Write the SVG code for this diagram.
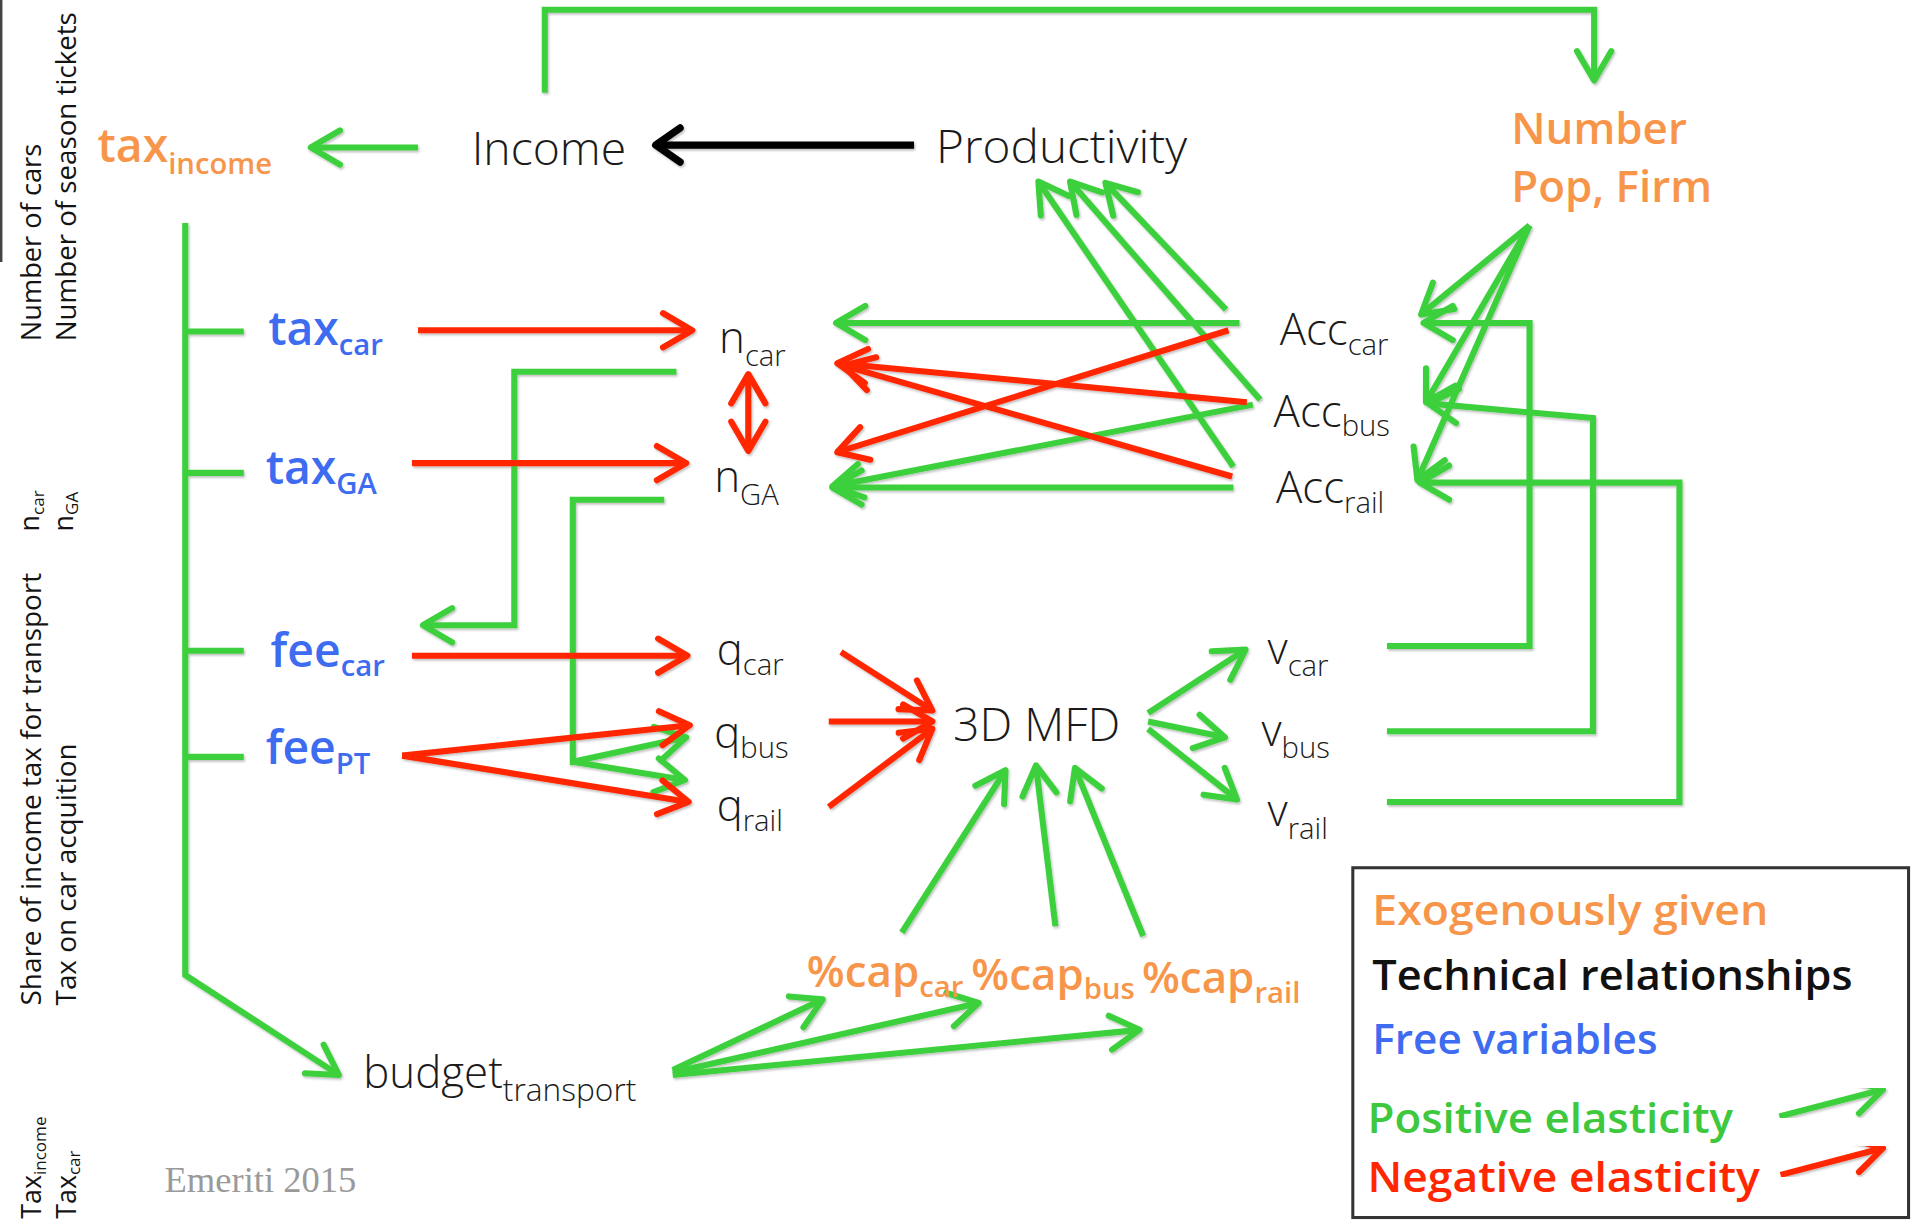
<svg xmlns="http://www.w3.org/2000/svg" width="1911" height="1223" viewBox="0 0 1911 1223">
<defs>
<style>
.t{font-family:"Open Sans","Noto Sans","DejaVu Sans",sans-serif;}
.lbl{font-size:38px;fill:#1b1b1b;font-weight:300;}
.sub{font-size:24px;}
.org{fill:#F7964A;font-weight:600;}
.blu{fill:#3E6CF1;font-weight:600;}
.vt{font-size:22px;fill:#141414;font-weight:400;}
.vs{font-size:14px;}
.leg{font-size:34px;font-weight:600;}
.g{stroke:#3DD03D;stroke-width:5;fill:none;marker-end:url(#ag);}
.gn{stroke:#3DD03D;stroke-width:5;fill:none;}
.r{stroke:#FF2600;stroke-width:5;fill:none;marker-end:url(#ar);}
.k{stroke:#000;stroke-width:6;fill:none;marker-end:url(#ak);}
</style>
<marker id="ag" markerUnits="userSpaceOnUse" orient="auto-start-reverse" markerWidth="60" markerHeight="60" viewBox="-30 -30 60 60" refX="0" refY="0" overflow="visible">
<path d="M-24,-14 L0,0 L-24,14" fill="none" stroke="#3DD03D" stroke-width="5" stroke-linecap="round" stroke-linejoin="round"/>
</marker>
<marker id="ar" markerUnits="userSpaceOnUse" orient="auto-start-reverse" markerWidth="60" markerHeight="60" viewBox="-30 -30 60 60" refX="0" refY="0" overflow="visible">
<path d="M-24,-14 L0,0 L-24,14" fill="none" stroke="#FF2600" stroke-width="5" stroke-linecap="round" stroke-linejoin="round"/>
</marker>
<marker id="ak" markerUnits="userSpaceOnUse" orient="auto" markerWidth="60" markerHeight="60" viewBox="-30 -30 60 60" refX="0" refY="0" overflow="visible">
<path d="M-20,-14 L0,0 L-20,14" fill="none" stroke="#000" stroke-width="6" stroke-linecap="round" stroke-linejoin="round"/>
</marker>
<filter id="sh" x="-5%" y="-5%" width="110%" height="110%">
<feDropShadow dx="1" dy="1.5" stdDeviation="1" flood-color="#000" flood-opacity="0.25"/>
</filter>
</defs>
<rect width="1911" height="1223" fill="#fff"/>
<g transform="scale(1.21875)">
<line x1="1" y1="0" x2="1" y2="215" stroke="#444" stroke-width="2"/>
<g id="side-notes" class="t vt">
<text transform="translate(34,280) rotate(-90)" textLength="162" lengthAdjust="spacingAndGlyphs">Number of cars</text>
<text transform="translate(62,280) rotate(-90)" textLength="270" lengthAdjust="spacingAndGlyphs">Number of season tickets</text>
<text transform="translate(32,436) rotate(-90)">n<tspan class="vs" dy="4">car</tspan></text>
<text transform="translate(60,436) rotate(-90)">n<tspan class="vs" dy="4">GA</tspan></text>
<text transform="translate(34,825) rotate(-90)" textLength="355" lengthAdjust="spacingAndGlyphs">Share of income tax for transport</text>
<text transform="translate(62,825) rotate(-90)" textLength="215" lengthAdjust="spacingAndGlyphs">Tax on car acquition</text>
<text transform="translate(34,1000) rotate(-90)">Tax<tspan class="vs" dy="4">income</tspan></text>
<text transform="translate(62,1000) rotate(-90)">Tax<tspan class="vs" dy="4">car</tspan></text>
</g>
<g id="connectors" filter="url(#sh)">
<path class="g" d="M447,76 V8 H1308 V66"/>
<path class="g" d="M343,121 H255"/>
<path class="k" d="M750,119 H538"/>
<path class="g" d="M152,183 V800 L278,882"/>
<path class="gn" d="M152,272 H200 M152,388 H200 M152,534 H200 M152,621 H200"/>
<path class="g" d="M555,305 H422 V513 H347"/>
<path class="g" d="M545,410 H470 V625 L563,605"/>
<path class="g" d="M470,625 L562,640"/>
<path class="g" d="M1017,265 H686"/>
<path class="g" d="M1028,332 L683,399"/>
<path class="g" d="M1012,400 H683"/>
<path class="g" d="M1006,254 L907,150"/>
<path class="g" d="M1034,328 L878,149"/>
<path class="g" d="M1012,383 L852,149"/>
<path class="g" d="M1255,185 L1166,258"/>
<path class="g" d="M1255,185 L1170,330"/>
<path class="g" d="M1255,185 L1163,394"/>
<path class="g" d="M1138,530 H1255 V265 H1168"/>
<path class="g" d="M1138,600 H1307 V343 L1172,331"/>
<path class="g" d="M1138,658 H1378 V396 H1165"/>
<path class="g" d="M942,585 L1022,533"/>
<path class="g" d="M942,592 L1005,605"/>
<path class="g" d="M942,598 L1015,656"/>
<path class="g" d="M740,765 L825,632"/>
<path class="g" d="M866,760 L850,628"/>
<path class="g" d="M938,768 L882,630"/>
<path class="g" d="M552,878 L675,820"/>
<path class="g" d="M552,880 L803,823"/>
<path class="g" d="M552,882 L935,845"/>
<path class="r" d="M343,271 H568"/>
<path class="r" d="M338,380 H563"/>
<path class="r" d="M338,538 H564"/>
<path class="r" d="M330,620 L566,595"/>
<path class="r" d="M330,620 L565,658"/>
<path class="r" d="M614,307 V370" marker-start="url(#ar)"/>
<path class="r" d="M1008,271 L687,371"/>
<path class="r" d="M1023,330 L687,298"/>
<path class="r" d="M1011,391 L692,300"/>
<path class="r" d="M690,535 L765,583"/>
<path class="r" d="M680,592 H765"/>
<path class="r" d="M680,662 L765,598"/>
</g>
<g id="tax_income" class="t lbl org"><text x="80" y="133">tax<tspan class="sub" dy="10">income</tspan></text></g>
<g id="income" class="t lbl"><text x="387" y="135">Income</text></g>
<g id="productivity" class="t lbl"><text x="768" y="134" textLength="206" lengthAdjust="spacingAndGlyphs">Productivity</text></g>
<g id="number_pop_firm" class="t lbl org"><text x="1240" y="118" font-size="36">Number</text><text x="1240" y="166" font-size="36">Pop, Firm</text></g>
<g id="tax_car" class="t lbl blu"><text x="220" y="283">tax<tspan class="sub" dy="8">car</tspan></text></g>
<g id="tax_GA" class="t lbl blu"><text x="218" y="397">tax<tspan class="sub" dy="8">GA</tspan></text></g>
<g id="fee_car" class="t lbl blu"><text x="222" y="547">fee<tspan class="sub" dy="8">car</tspan></text></g>
<g id="fee_PT" class="t lbl blu"><text x="218" y="627">fee<tspan class="sub" dy="8">PT</tspan></text></g>
<g id="n_car" class="t lbl"><text x="590" y="290" font-size="36">n<tspan class="sub" dy="10">car</tspan></text></g>
<g id="n_GA" class="t lbl"><text x="586" y="404" font-size="36">n<tspan class="sub" dy="10">GA</tspan></text></g>
<g id="q_car" class="t lbl"><text x="588" y="546" font-size="36">q<tspan class="sub" dy="8">car</tspan></text></g>
<g id="q_bus" class="t lbl"><text x="586" y="614" font-size="36">q<tspan class="sub" dy="8">bus</tspan></text></g>
<g id="q_rail" class="t lbl"><text x="588" y="674" font-size="36">q<tspan class="sub" dy="8">rail</tspan></text></g>
<g id="mfd" class="t lbl"><text x="782" y="608">3D MFD</text></g>
<g id="v_car" class="t lbl"><text x="1040" y="545" font-size="36">v<tspan class="sub" dy="10">car</tspan></text></g>
<g id="v_bus" class="t lbl"><text x="1035" y="612" font-size="36">v<tspan class="sub" dy="10">bus</tspan></text></g>
<g id="v_rail" class="t lbl"><text x="1040" y="678" font-size="36">v<tspan class="sub" dy="10">rail</tspan></text></g>
<g id="acc_car" class="t lbl"><text x="1050" y="283" font-size="36">Acc<tspan class="sub" dy="8">car</tspan></text></g>
<g id="acc_bus" class="t lbl"><text x="1045" y="350" font-size="36">Acc<tspan class="sub" dy="8">bus</tspan></text></g>
<g id="acc_rail" class="t lbl"><text x="1047" y="413" font-size="36">Acc<tspan class="sub" dy="8">rail</tspan></text></g>
<g id="cap_car" class="t lbl org"><text x="662" y="810" font-size="36">%cap<tspan class="sub" dy="8">car</tspan></text></g>
<g id="cap_bus" class="t lbl org"><text x="797" y="812" font-size="36">%cap<tspan class="sub" dy="8">bus</tspan></text></g>
<g id="cap_rail" class="t lbl org"><text x="937" y="815" font-size="36">%cap<tspan class="sub" dy="8">rail</tspan></text></g>
<g id="budget" class="t lbl"><text x="298" y="893" font-size="36">budget<tspan font-size="26" dy="10">transport</tspan></text></g>
<text x="135" y="978" font-family="'Liberation Serif',serif" font-size="30" fill="#9a9a9a">Emeriti 2015</text>
<g id="legend">
<rect x="1110" y="712" width="456" height="287" fill="#fff" stroke="#333" stroke-width="2.5"/>
<text class="t leg" x="1126" y="759" fill="#F7964A" textLength="325" lengthAdjust="spacingAndGlyphs">Exogenously given</text>
<text class="t leg" x="1126" y="812" fill="#111" textLength="394" lengthAdjust="spacingAndGlyphs">Technical relationships</text>
<text class="t leg" x="1126" y="865" fill="#3E6CF1" textLength="234" lengthAdjust="spacingAndGlyphs">Free variables</text>
<text class="t leg" x="1122" y="930" fill="#3DC83D" textLength="300" lengthAdjust="spacingAndGlyphs">Positive elasticity</text>
<text class="t leg" x="1122" y="978" fill="#FF2600" textLength="322" lengthAdjust="spacingAndGlyphs">Negative elasticity</text>
<path class="g" d="M1460,916 L1545,894" filter="url(#sh)"/>
<path class="r" d="M1461,964 L1545,942" filter="url(#sh)"/>
</g>
</g>
</svg>
